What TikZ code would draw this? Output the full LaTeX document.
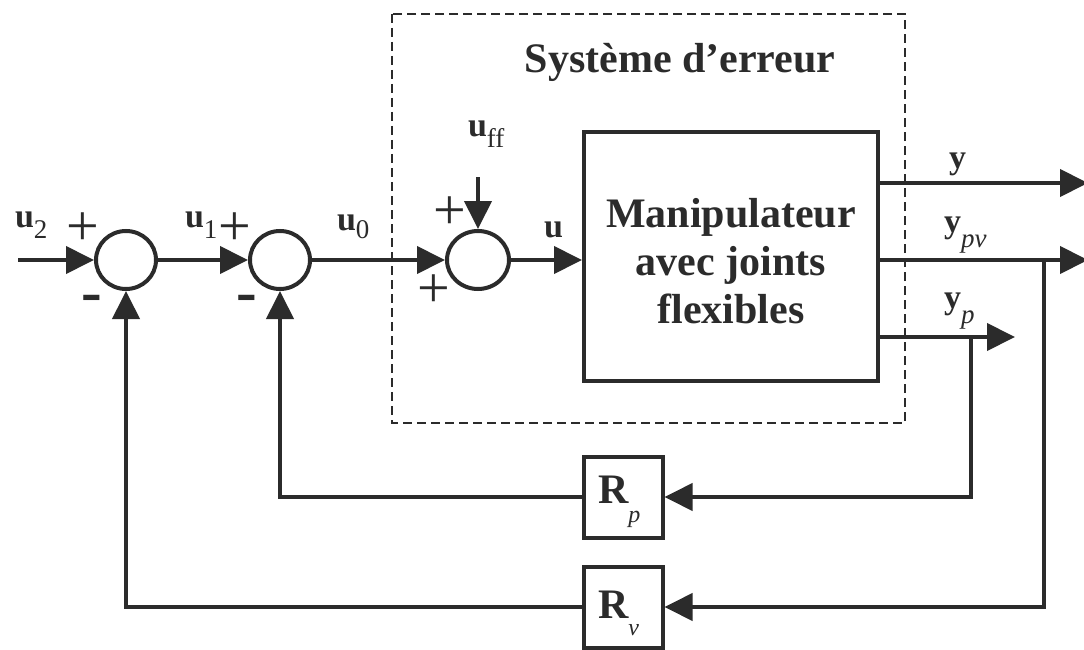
\documentclass[tikz,border=0pt]{standalone}
\usepackage{fontspec}
\setmainfont{Liberation Serif}
\usetikzlibrary{arrows.meta,shapes.geometric}
\definecolor{ink}{HTML}{2B2B2B}
\newcommand{\sublab}[3]{{\fontsize{34}{34}\selectfont\bfseries #1}\raisebox{-#3pt}{\fontsize{27}{27}\selectfont #2}}
\begin{document}
\begin{tikzpicture}[x=1pt,y=-1pt,line width=4pt,color=ink,
  sumnode/.style={draw,ellipse,minimum width=60pt,minimum height=58pt,inner sep=0pt},
  blk/.style={draw,rectangle,inner sep=0pt},
  arr/.style={-{Triangle[length=28pt,width=27pt]}},
  lab/.style={inner sep=0pt,anchor=base west},
  sgn/.style={inner sep=0pt,font=\fontsize{58}{58}\selectfont},
  msgn/.style={inner sep=0pt,font=\fontsize{62}{62}\selectfont\bfseries},
  big/.style={inner sep=0pt,font=\fontsize{42}{48}\selectfont\bfseries}]
\useasboundingbox[fill=white] (0,0) rectangle (1084,650);

% dashed system boundary
\draw[line width=1.6pt,dash pattern=on 9pt off 5pt] (392,14) rectangle (905,423);
\node[big,anchor=base] (title) at (680,73) {Système d’erreur};

% summing junctions
\node[sumnode] (sum1) at (126,260) {};
\node[sumnode] (sum2) at (280,260) {};
\node[sumnode,minimum width=62pt] (sum3) at (478,260) {};

% plant
\node[blk,minimum width=294pt,minimum height=249pt] (plant) at (731,256.5) {};
\node[big,align=center] (plantlabel) at (731,261) {Manipulateur\\avec joints\\flexibles};

% feedback blocks
\node[blk,minimum width=79pt,minimum height=81pt] (Rp) at (623,497) {};
\node[inner sep=0pt,anchor=base west] (Rplab) at (596,503) {{\fontsize{42}{42}\selectfont\bfseries R}\raisebox{-19pt}{\fontsize{24}{24}\selectfont\itshape p}};
\node[blk,minimum width=79pt,minimum height=81pt] (Rv) at (623,607) {};
\node[inner sep=0pt,anchor=base west] (Rvlab) at (596,618) {{\fontsize{42}{42}\selectfont\bfseries R}\raisebox{-17pt}{\fontsize{24}{24}\selectfont\itshape v}};

% coordinates
\coordinate (u2in) at (18,260);
\coordinate (uffin) at (478,177);
\coordinate (yend) at (1088,183);
\coordinate (ypvend) at (1088,260);
\coordinate (ypend) at (1015,337);
\coordinate (ypbranch) at (971,337);
\coordinate (ypvbranch) at (1044,260);

% forward path
\draw[arr] (u2in) -- (sum1.west);
\draw[arr] (sum1.east) -- (sum2.west);
\draw[arr] (sum2.east) -- (sum3.west);
\draw[arr] (uffin) -- (sum3.north);
\draw[arr] (sum3.east) -- (sum3 -| plant.west);

% outputs
\draw[arr] (plant.east |- yend) -- (yend);
\draw[arr] (plant.east |- ypvend) -- (ypvend);
\draw[arr] (plant.east |- ypend) -- (ypend);

% feedback
\draw[arr] (ypbranch) |- (Rp.east);
\draw[arr] (Rp.west) -| (sum2.south);
\draw[arr] (ypvbranch) |- (Rv.east);
\draw[arr] (Rv.west) -| (sum1.south);

% signal labels
\node[lab] (lu2) at (13,227) {\sublab{u}{2}{11}};
\node[lab] (lu1) at (183,227) {\sublab{u}{1}{11}};
\node[lab] (lu0) at (335,230) {\sublab{u}{0}{8}};
\node[lab] (lu) at (542,237) {\sublab{u}{}{0}};
\node[lab] (luff) at (466,137) {\sublab{u}{ff}{10}};
\node[lab] (ly) at (947,168) {\sublab{y}{}{0}};
\node[lab] (lypv) at (942,232) {\sublab{y}{\itshape pv}{15}};
\node[lab] (lyp) at (942,308) {\sublab{y}{\itshape p}{15}};

% signs
\node[sgn] (p1) at (83,229) {+};
\node[sgn] (p2) at (235,229) {+};
\node[msgn] (m1) at (92,304) {-};
\node[msgn] (m2) at (247,304) {-};
\node[sgn] (p3) at (450,213) {+};
\node[sgn] (p4) at (434,291) {+};
\end{tikzpicture}
\end{document}
